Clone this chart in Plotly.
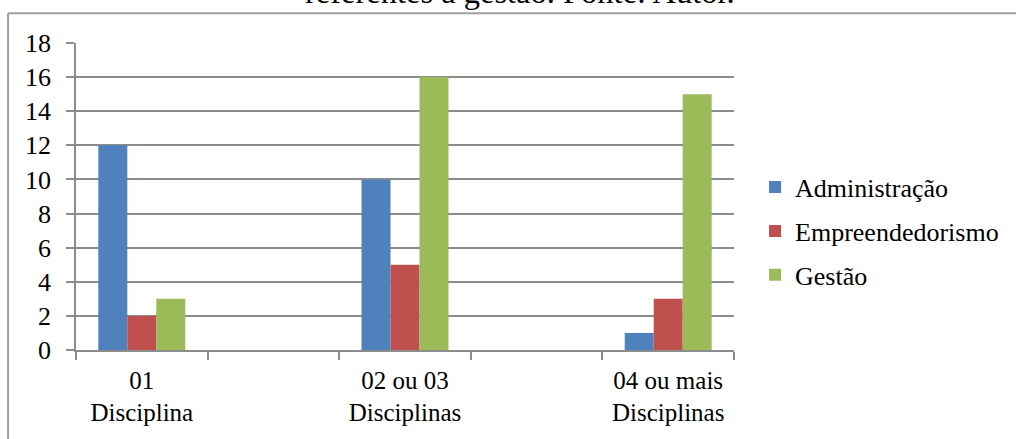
import plotly.graph_objects as go

# Number of management-related courses, grouped by count; the blank
# slots keep the wide spacing between the three groups.
categories = ["01<br>Disciplina", " ", "02 ou 03<br>Disciplinas", "  ", "04 ou mais<br>Disciplinas"]
administracao = [12, None, 10, None, 1]
empreendedorismo = [2, None, 5, None, 3]
gestao = [3, None, 16, None, 15]
y_ticks = [0, 2, 4, 6, 8, 10, 12, 14, 16, 18]

series = [
    ("Administração", administracao, "#4F81BD"),
    ("Empreendedorismo", empreendedorismo, "#C0504D"),
    ("Gestão", gestao, "#9BBB59"),
]

FONT = "Liberation Serif"
SIZE = 26
GRID = "#8C8C8C"

fig = go.Figure()
for i, (name, vals, color) in enumerate(series):
    fig.add_trace(go.Bar(
        name=name, x=categories, y=vals,
        marker=dict(color=color, line=dict(width=0)),
        legendgroup=f"g{i}",
    ))

fig.update_layout(
    width=1016, height=439,
    margin=dict(l=76, r=282, t=43, b=89),
    paper_bgcolor="white", plot_bgcolor="white",
    font=dict(family=FONT, size=SIZE, color="black"),
    barmode="group", bargap=0.339, bargroupgap=0,
    showlegend=True,
    legend=dict(
        x=1.032, xanchor="left", y=0.387, yanchor="middle",
        font=dict(family=FONT, size=SIZE, color="black"),
        tracegroupgap=7, itemwidth=30,
        bgcolor="rgba(0,0,0,0)",
    ),
    xaxis=dict(
        type="category", range=[-0.5, 4.5],
        showline=True, linecolor=GRID, linewidth=1.5,
        ticks="outside", tickson="boundaries", ticklen=8, tickcolor=GRID, tickwidth=1.5,
        showgrid=False, ticklabelstandoff=7,
        tickfont=dict(family=FONT, size=25, color="black"),
    ),
    yaxis=dict(
        range=[0, 18], tickvals=y_ticks,
        showline=True, linecolor=GRID, linewidth=1.5,
        ticks="outside", ticklen=8, tickcolor=GRID, tickwidth=1.5,
        showgrid=True, gridcolor=GRID, gridwidth=1.5, zeroline=False,
        ticklabelstandoff=10, tickfont=dict(family=FONT, size=SIZE, color="black"),
    ),
)

# Chart frame (top and left edges visible within the page)
border = dict(color="#A0A0A0", width=2)
fig.add_shape(type="line", xref="paper", yref="paper",
              x0=-0.1033, x1=1.45, y0=1.0967, y1=1.0967, line=border)
fig.add_shape(type="line", xref="paper", yref="paper",
              x0=-0.1033, x1=-0.1033, y0=1.0967, y1=-0.35, line=border)

# Caption line above the frame
fig.add_annotation(
    text="referentes à gestão. Fonte: Autor.",
    xref="paper", yref="paper", x=0.675, y=1.10, xanchor="center", yanchor="bottom",
    showarrow=False, font=dict(family=FONT, size=32.5, color="black"),
)

fig.write_html("out.html")
